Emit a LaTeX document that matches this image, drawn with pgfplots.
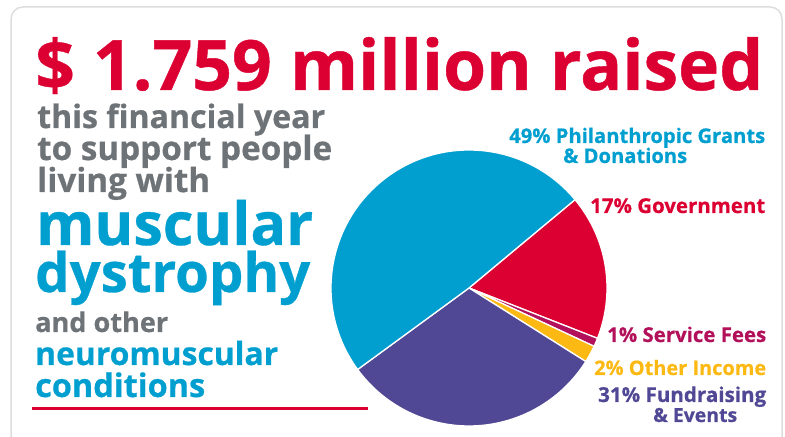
\documentclass[border=0pt]{standalone}
\usepackage{fontspec}
\setmainfont{Open Sans}[BoldFeatures={FakeBold=0.6}]
\usepackage{pgfplots}
\usepackage{pgfplotstable}
\pgfplotsset{compat=1.18}

\definecolor{mdblue}{HTML}{009FD0}
\definecolor{mdred}{HTML}{DC0032}
\definecolor{mdgray}{HTML}{6E7378}
\definecolor{mdpurple}{HTML}{504894}
\definecolor{mdpink}{HTML}{B2105A}
\definecolor{mdyellow}{HTML}{FDB913}
\definecolor{framegray}{HTML}{DDDDDD}

% income shares in percent, clockwise from the top of the red slice
\pgfplotstableread{
share col
17 mdred
1  mdpink
2  mdyellow
31 mdpurple
49 mdblue
}\shares

% bold text set to a given width (in px of the reference)
\newcommand\fit[2]{\resizebox{#1bp}{!}{\fontsize{20bp}{20bp}\selectfont\bfseries #2}}

\begin{document}
\begin{tikzpicture}[x=1bp,y=1bp]
\useasboundingbox (0,0) rectangle (785,437);
\begin{axis}[
    at={(0,0)}, anchor=south west,
    width=785bp, height=437bp, scale only axis,
    xmin=0, xmax=785, ymin=0, ymax=437,
    hide axis, clip=false,
]
% frame
\draw[framegray, line width=1.5bp, rounded corners=12bp]
    (axis cs:11,-10) -- (axis cs:11,430) -- (axis cs:782,430) -- (axis cs:782,-10);

% pie slices
\pgfplotsextra{%
  \xdef\startang{39.8}%
  \foreach \i in {0,...,4}{%
    \pgfplotstablegetelem{\i}{share}\of\shares \let\sh\pgfplotsretval
    \pgfplotstablegetelem{\i}{col}\of\shares \let\cl\pgfplotsretval
    \pgfmathsetmacro\endang{\startang-3.6*\sh}%
    \fill[fill=\cl, draw=white, line width=1.3bp]
      (axis cs:469,149) -- ++(\startang:138bp)
      arc[start angle=\startang, end angle=\endang, radius=138bp] -- cycle;
    \xdef\startang{\endang}%
  }%
}

% left text block
\tikzset{lbl/.style={anchor=base west, inner sep=0}}
\node[lbl, text=mdred] at (axis cs:35,347) {\fit{728}{\$ 1.759 million raised}};
\node[lbl, text=mdgray] at (axis cs:37,309) {\fit{288}{this financial year}};
\node[lbl, text=mdgray] at (axis cs:37,277) {\fit{295}{to support people}};
\node[lbl, text=mdgray] at (axis cs:37,245) {\fit{173}{living with}};
\node[lbl, text=mdblue] at (axis cs:36,192) {\fit{277}{muscular}};
\node[lbl, text=mdblue] at (axis cs:35,145) {\fit{275}{dystrophy}};
\node[lbl, text=mdgray] at (axis cs:35,105) {\fit{133}{and other}};
\node[lbl, text=mdblue] at (axis cs:35,72) {\fit{243}{neuromuscular}};
\node[lbl, text=mdblue] at (axis cs:35,40) {\fit{170}{conditions}};
\draw[mdred, line width=3bp] (axis cs:32,28) -- (axis cs:368,28);

% slice labels
\node[lbl, text=mdblue] at (axis cs:509,294) {\fit{256}{49\% Philanthropic Grants}};
\node[lbl, text=mdblue] at (axis cs:563,274) {\fit{124}{\& Donations}};
\node[lbl, text=mdred] at (axis cs:590,224) {\fit{175}{17\% Government}};
\node[lbl, text=mdpink] at (axis cs:607,95) {\fit{159}{1\% Service Fees}};
\node[lbl, text=mdyellow] at (axis cs:594,62) {\fit{172}{2\% Other Income}};
\node[lbl, text=mdpurple] at (axis cs:598,35) {\fit{168}{31\% Fundraising}};
\node[lbl, text=mdpurple] at (axis cs:653,15) {\fit{84}{\& Events}};
\end{axis}
\end{tikzpicture}
\end{document}
